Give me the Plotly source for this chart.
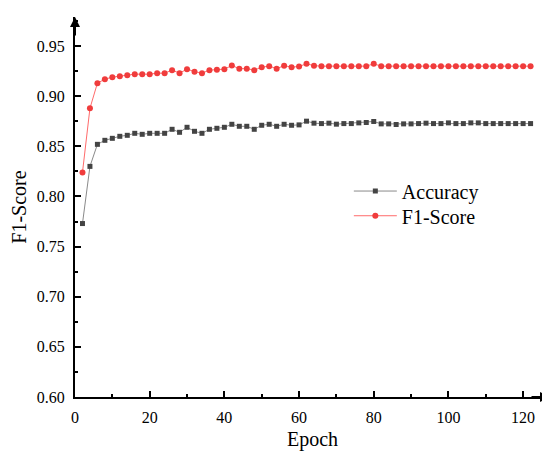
import plotly.graph_objects as go

# epochs (every 2nd epoch was logged)
epochs = [2, 4, 6, 8, 10, 12, 14, 16, 18, 20, 22, 24, 26, 28, 30, 32, 34, 36, 38, 40,
          42, 44, 46, 48, 50, 52, 54, 56, 58, 60, 62, 64, 66, 68, 70, 72, 74, 76, 78, 80,
          82, 84, 86, 88, 90, 92, 94, 96, 98, 100, 102, 104, 106, 108, 110, 112, 114, 116, 118, 120,
          122]

accuracy = [0.773, 0.830, 0.852, 0.856, 0.858, 0.860, 0.861, 0.863, 0.862, 0.863,
            0.863, 0.863, 0.867, 0.864, 0.869, 0.865, 0.863, 0.867, 0.868, 0.869,
            0.872, 0.870, 0.870, 0.867, 0.871, 0.872, 0.870, 0.872, 0.871, 0.8714,
            0.8751, 0.8731, 0.8727, 0.8731, 0.8721, 0.8727, 0.8727, 0.8734, 0.8738, 0.8748,
            0.8724, 0.8724, 0.8718, 0.8724, 0.8724, 0.8727, 0.8731, 0.8727, 0.8727, 0.8734,
            0.8727, 0.8727, 0.8734, 0.8734, 0.8727, 0.8727, 0.8727, 0.8727, 0.8727, 0.8727,
            0.8727]

f1_score = [0.824, 0.888, 0.913, 0.917, 0.919, 0.920, 0.921, 0.922, 0.922, 0.922,
            0.923, 0.923, 0.926, 0.923, 0.927, 0.9245, 0.923, 0.926, 0.9265, 0.927,
            0.9306, 0.9275, 0.9275, 0.926, 0.929, 0.930, 0.9275, 0.9305, 0.929, 0.9297,
            0.9323, 0.9305, 0.930, 0.930, 0.930, 0.930, 0.930, 0.930, 0.930, 0.9323,
            0.930, 0.930, 0.930, 0.930, 0.930, 0.930, 0.930, 0.930, 0.930, 0.930,
            0.930, 0.930, 0.930, 0.930, 0.930, 0.930, 0.930, 0.930, 0.930, 0.930,
            0.930]

font = "Liberation Serif"

fig = go.Figure()
fig.add_trace(go.Scatter(x=epochs, y=accuracy, name="Accuracy", mode="lines+markers",
                         line=dict(color="#8a8a8a", width=1),
                         marker=dict(symbol="square", size=5, color="#444444"),
                         showlegend=True, legend="legend"))
fig.add_trace(go.Scatter(x=epochs, y=f1_score, name="F1-Score", mode="lines+markers",
                         line=dict(color="#ff6b6b", width=1),
                         marker=dict(symbol="circle", size=6, color="#f03c3c"),
                         showlegend=True, legend="legend2"))

axis_common = dict(showline=True, linecolor="black", linewidth=2, showgrid=False,
                   zeroline=False, ticks="inside", ticklen=6, tickwidth=1.5, tickcolor="black",
                   ticklabelstandoff=5,
                   tickfont=dict(family=font, size=16, color="black"))

fig.update_xaxes(range=[0, 127.2], tick0=0, dtick=20,
                 minor=dict(ticks="inside", ticklen=3, dtick=10, tickcolor="black", tickwidth=1.5),
                 title=dict(text="Epoch", font=dict(family=font, size=20, color="black"), standoff=7),
                 **axis_common)
fig.update_yaxes(range=[0.6, 0.979], tick0=0.6, dtick=0.05, tickformat=".2f",
                 minor=dict(ticks="inside", ticklen=3, dtick=0.025, tickcolor="black", tickwidth=1.5),
                 title=dict(text="F1-Score", font=dict(family=font, size=20, color="black"), standoff=7),
                 **axis_common)

# arrow heads at the end of both axes
fig.add_annotation(x=127.2, y=0.6, xref="x", yref="y", text="", showarrow=True,
                   ax=-20, ay=0, arrowhead=2, arrowsize=1, arrowwidth=2, arrowcolor="black")
fig.add_annotation(x=0, y=0.979, xref="x", yref="y", text="", showarrow=True,
                   ax=0, ay=20, arrowhead=2, arrowsize=1, arrowwidth=2, arrowcolor="black")

# one legend per row so the row spacing can follow the original
legend_style = dict(xanchor="left", yanchor="middle", itemwidth=43, bgcolor="rgba(0,0,0,0)",
                    visible=True, font=dict(family=font, size=20, color="black"))

fig.update_layout(width=550, height=453, plot_bgcolor="white", paper_bgcolor="white",
                  margin=dict(l=65, r=8, t=9, b=64), showlegend=True,
                  legend=dict(x=0.5765, y=0.542, **legend_style),
                  legend2=dict(x=0.5765, y=0.477, **legend_style))

fig.write_html("out.html")
